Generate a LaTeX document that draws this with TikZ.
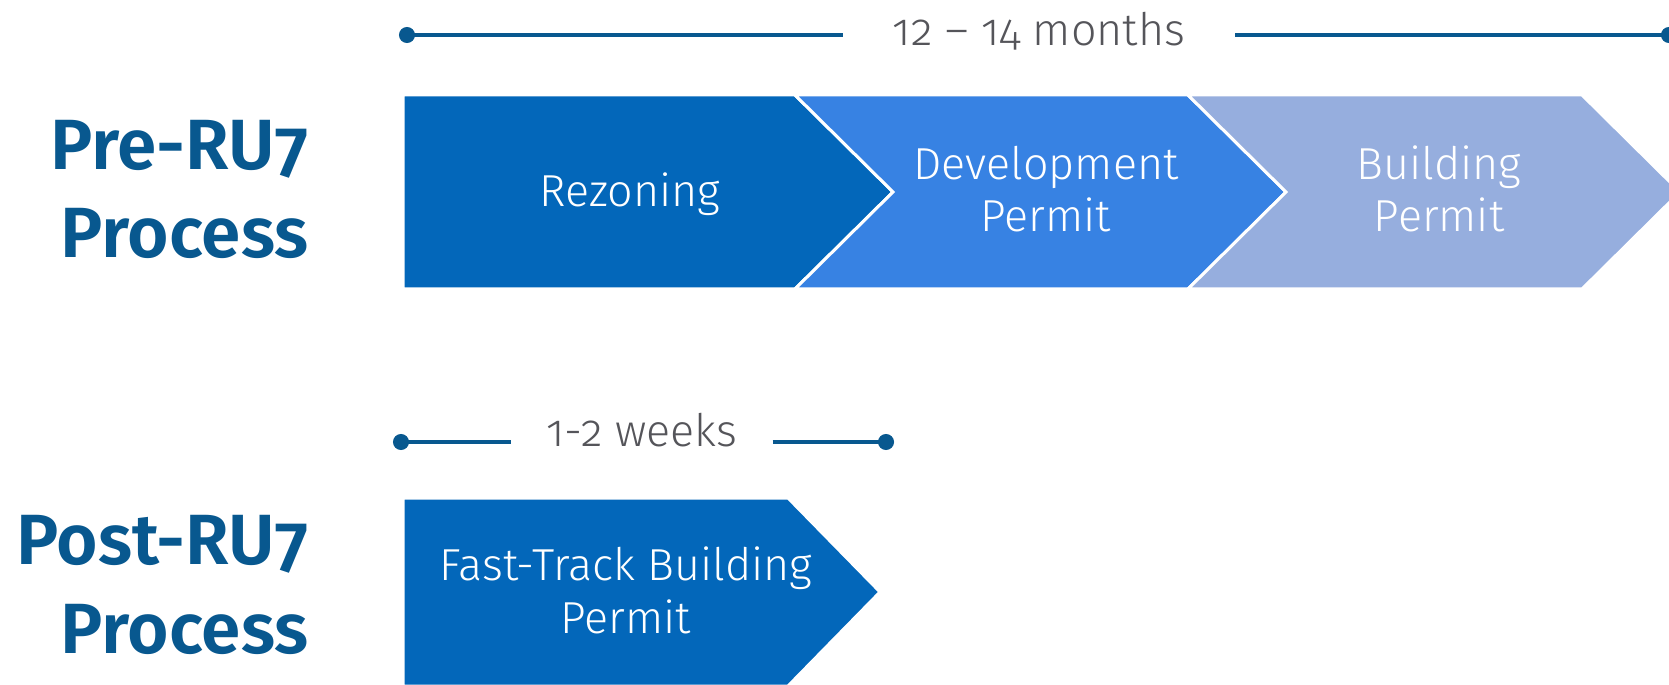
\documentclass[tikz,border=0pt]{standalone}
\usepackage{fontspec}
\setmainfont{Fira Sans}[Numbers=OldStyle]
\newfontfamily\steplight{Fira Sans Light}[Numbers=OldStyle]
\newfontfamily\titlesemi{Fira Sans SemiBold}[Numbers=OldStyle]
\usepackage{tikz}
\usetikzlibrary{arrows.meta}
\definecolor{rezblue}{RGB}{3,103,186}
\definecolor{devblue}{RGB}{55,130,227}
\definecolor{bldblue}{RGB}{150,174,222}
\definecolor{spanblue}{RGB}{8,88,143}
\definecolor{spangray}{RGB}{85,85,90}

\begin{document}
\begin{tikzpicture}[x=0.02cm,y=-0.02cm,
	stage/.style={fill=#1,draw=white,line width=0.06cm,line join=miter},
	span/.style={draw=spanblue,line width=0.08cm},
	steptext/.style={text=white,align=center,anchor=base,font=\steplight\fontsize{25.5}{29.6}\selectfont},
	spantext/.style={text=spangray,inner xsep=1cm,anchor=base,font=\steplight\fontsize{25.5}{30}\selectfont},
	title/.style={text=spanblue,align=right,anchor=base east,inner sep=0pt,font=\titlesemi\fontsize{40.5}{50.6}\selectfont}]
	\useasboundingbox (0,0) rectangle (1669,685);
	
	\draw[stage=rezblue] (403,95) -- (795,95) -- (893,192) -- (795,289) -- (403,289) -- cycle;
	\draw[stage=devblue] (795,95) -- (1188,95) -- (1286,192) -- (1188,289) -- (795,289) -- (893,192) -- cycle;
	\draw[stage=bldblue] (1188,95) -- (1582,95) -- (1680,192) -- (1582,289) -- (1188,289) -- (1286,192) -- cycle;
	
	% base of a two-line node is its last line
	\node[steptext] (rezoning) at (630,207) {Rezoning};
	\node[steptext] (devpermit) at (1046,232) {Development\\Permit};
	\node[steptext] (bldpermit) at (1439,232) {Building\\Permit};
	
	\node[title] (pre) at (309,258) {Pre-RU7\\Process};
	
	\node[spantext] (months) at (1039,46) {12 – 14 months};
	\coordinate (m0) at (399,35);
	\coordinate (m1) at (1677,35);
	\draw[span,{Circle[length=0.32cm]}-] (m0) -- (m0 -| months.west);
	\draw[span,-{Circle[length=0.32cm]}] (m1 -| months.east) -- (m1);
	
	\draw[stage=rezblue] (403,498) -- (788,498) -- (880,592) -- (788,686) -- (403,686) -- cycle;
	
	\node[steptext] (fasttrack) at (626,633) {Fast-Track Building\\Permit};
	
	\node[title] (post) at (309,653) {Post-RU7\\Process};
	
	\node[spantext,inner xsep=0.7cm] (weeks) at (642,446) {1-2 weeks};
	\coordinate (w0) at (393,442);
	\coordinate (w1) at (894,442);
	\draw[span,{Circle[length=0.32cm]}-] (w0) -- (w0 -| weeks.west);
	\draw[span,-{Circle[length=0.32cm]}] (w1 -| weeks.east) -- (w1);
\end{tikzpicture}
\end{document}
